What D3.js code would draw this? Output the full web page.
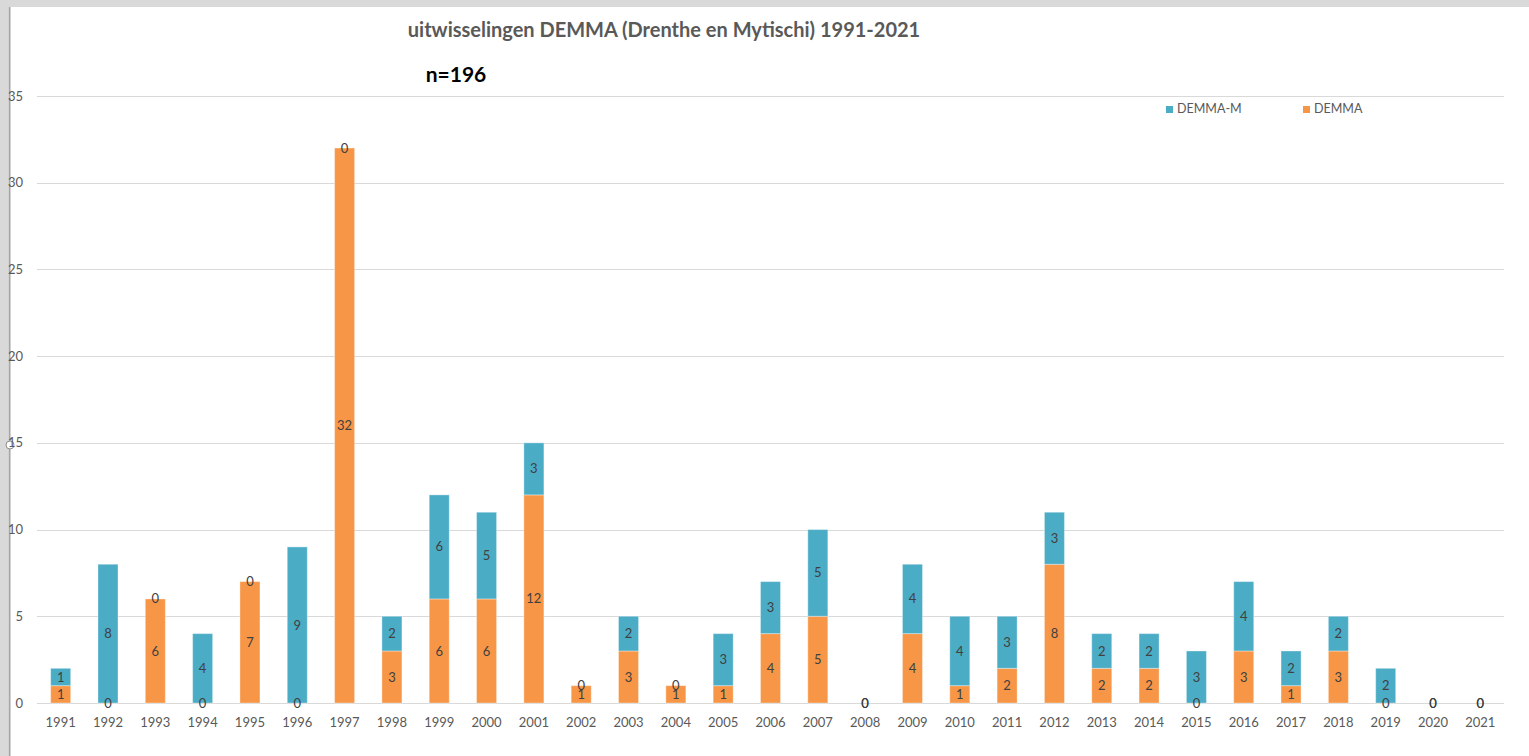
<!DOCTYPE html>
<html>
<head>
<meta charset="utf-8">
<script src="https://cdn.jsdelivr.net/npm/d3@7"></script>
<style>
  html, body { margin: 0; padding: 0; background: #fff; }
  svg { display: block; font-family: Lato, "Open Sans", sans-serif; }
</style>
</head>
<body>
<svg id="chart" width="1529" height="756"></svg>
<script>
const years = d3.range(1991, 2022).map(String);

// DEMMA (orange, bottom of stack)
const demma = [1, 0, 6, 0, 7, 0, 32, 3, 6, 6, 12, 1, 3, 1, 1, 4, 5, 0, 4, 1, 2, 8, 2, 2, 0, 3, 1, 3, 0, 0, 0];
// DEMMA-M (blue, top of stack)
const demmaM = [1, 8, 0, 4, 0, 9, 0, 2, 6, 5, 3, 0, 2, 0, 3, 3, 5, 0, 4, 4, 3, 3, 2, 2, 3, 4, 2, 2, 2, 0, 0];

const yTicks = [0, 5, 10, 15, 20, 25, 30, 35];

const seriesNames = ["DEMMA", "DEMMA-M"];
const colors = { "DEMMA": "#f79646", "DEMMA-M": "#4bacc6" };

const title = "uitwisselingen DEMMA (Drenthe en Mytischi) 1991-2021";
const subtitle = "n=196";

const width = 1529;
const height = 756;
const margin = { left: 37, right: 25, top: 96, bottom: 53 };

const svg = d3.select("#chart");

// window chrome around the chart (spreadsheet frame)
svg.append("rect").attr("x", 0).attr("y", 0).attr("width", width).attr("height", 7).attr("fill", "#d9d9d9");
svg.append("rect").attr("x", 0).attr("y", 0).attr("width", 8).attr("height", height).attr("fill", "#d9d9d9");
svg.append("line").attr("x1", 9.5).attr("x2", 9.5).attr("y1", 7).attr("y2", height)
  .attr("stroke", "#a6a6a6").attr("stroke-width", 2);
svg.append("circle").attr("cx", 10).attr("cy", 445).attr("r", 4)
  .attr("fill", "#fff").attr("stroke", "#8c8c8c");

const x = d3.scaleBand()
  .domain(years)
  .range([margin.left, width - margin.right])
  .paddingInner(0.577)
  .paddingOuter(0.2885);

const y = d3.scaleLinear()
  .domain([0, 35])
  .range([height - margin.bottom, margin.top]);

// gridlines
svg.append("g")
  .selectAll("line")
  .data(yTicks)
  .join("line")
  .attr("x1", margin.left)
  .attr("x2", width - margin.right)
  .attr("y1", (d) => Math.round(y(d)) + 0.5)
  .attr("y2", (d) => Math.round(y(d)) + 0.5)
  .attr("stroke", "#d9d9d9")
  .attr("stroke-width", 1);

// y tick labels
svg.append("g")
  .selectAll("text")
  .data(yTicks)
  .join("text")
  .attr("x", 23)
  .attr("y", (d) => y(d))
  .attr("dy", "0.35em")
  .attr("text-anchor", "end")
  .attr("font-size", 13)
  .attr("fill", "#595959")
  .text((d) => d);

// x tick labels
svg.append("g")
  .selectAll("text")
  .data(years)
  .join("text")
  .attr("x", (d) => x(d) + x.bandwidth() / 2)
  .attr("y", y(0) + 19)
  .attr("dy", "0.35em")
  .attr("text-anchor", "middle")
  .attr("font-size", 13)
  .attr("fill", "#595959")
  .text((d) => d);

// stacked data
const rows = years.map((yr, i) => ({ year: yr, "DEMMA": demma[i], "DEMMA-M": demmaM[i] }));
const stack = d3.stack().keys(seriesNames)(rows);

const layers = svg.append("g")
  .selectAll("g")
  .data(stack)
  .join("g")
  .attr("fill", (d) => colors[d.key]);

layers.selectAll("rect")
  .data((d) => d)
  .join("rect")
  .attr("x", (d) => x(d.data.year))
  .attr("width", x.bandwidth())
  .attr("y", (d) => y(d[1]))
  .attr("height", (d) => y(d[0]) - y(d[1]))
  .attr("stroke", "#ffffff")
  .attr("stroke-opacity", 0.35)
  .attr("stroke-width", 1);

// data labels (centered in each segment; zeros sit on the segment edge)
const labels = svg.append("g");
stack.forEach((layer) => {
  labels.append("g")
    .selectAll("text")
    .data(layer)
    .join("text")
    .attr("x", (d) => x(d.data.year) + x.bandwidth() / 2)
    .attr("y", (d) => y((d[0] + d[1]) / 2))
    .attr("dy", "0.35em")
    .attr("text-anchor", "middle")
    .attr("font-size", 13)
    .attr("fill", "#404040")
    .text((d) => d.data[layer.key]);
});

// title
svg.append("text")
  .attr("x", 664)
  .attr("y", 37)
  .attr("text-anchor", "middle")
  .attr("font-size", 20)
  .attr("font-weight", "bold")
  .attr("fill", "#595959")
  .text(title);

svg.append("text")
  .attr("x", 456)
  .attr("y", 82)
  .attr("text-anchor", "middle")
  .attr("font-size", 21)
  .attr("font-weight", "bold")
  .attr("fill", "#000")
  .text(subtitle);

// legend
const legendItems = [
  { key: "DEMMA-M", x: 1166 },
  { key: "DEMMA", x: 1303 },
];
const legend = svg.append("g")
  .selectAll("g")
  .data(legendItems)
  .join("g")
  .attr("transform", (d) => `translate(${d.x},109)`);

legend.append("rect")
  .attr("x", 0)
  .attr("y", -3)
  .attr("width", 7)
  .attr("height", 7)
  .attr("fill", (d) => colors[d.key]);

legend.append("text")
  .attr("x", 11)
  .attr("y", 0)
  .attr("dy", "0.35em")
  .attr("font-size", 12.5)
  .attr("fill", "#595959")
  .text((d) => d.key);
</script>
</body>
</html>
